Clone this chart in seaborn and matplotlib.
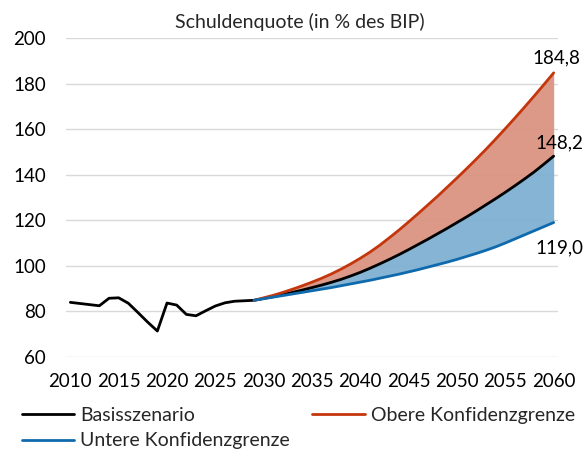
import pandas as pd
import numpy as np
import matplotlib
matplotlib.use("Agg")
import matplotlib.pyplot as plt
import seaborn as sns

# -----------------------------
# DATA
# -----------------------------
years_hist = list(range(2010, 2029))
base_hist = [83.9, 83.4, 82.9, 82.4, 85.7, 85.9, 83.5, 79.4, 75.2, 71.3,
             83.6, 82.7, 78.6, 78.0, 80.2, 82.3, 83.7, 84.4, 84.6]

years_proj = list(range(2029, 2061))
base_proj = [84.8, 85.6, 86.4, 87.3, 88.3, 89.3, 90.4, 91.5, 92.7, 94.0,
             95.5, 97.1, 98.9, 100.8, 102.8, 104.9, 107.1, 109.4, 111.7, 114.1,
             116.5, 119.0, 121.5, 124.1, 126.8, 129.5, 132.3, 135.2, 138.2, 141.3,
             144.7, 148.2]
upper_proj = [84.8, 85.9, 87.0, 88.3, 89.7, 91.2, 92.8, 94.5, 96.4, 98.5,
              100.8, 103.3, 106.0, 109.0, 112.3, 115.7, 119.3, 123.0, 126.8, 130.6,
              134.6, 138.6, 142.7, 146.9, 151.2, 155.7, 160.3, 165.0, 169.8, 174.7,
              179.7, 184.8]
lower_proj = [84.8, 85.5, 86.2, 86.9, 87.6, 88.3, 89.0, 89.7, 90.4, 91.2,
              92.0, 92.8, 93.6, 94.5, 95.4, 96.3, 97.3, 98.3, 99.4, 100.5,
              101.6, 102.8, 104.1, 105.4, 106.8, 108.3, 110.0, 111.8, 113.6, 115.4,
              117.2, 119.0]

series_names = ["Basisszenario", "Obere Konfidenzgrenze", "Untere Konfidenzgrenze"]
end_labels = ["148,2", "184,8", "119,0"]
title = "Schuldenquote (in % des BIP)"

# -----------------------------
# BUILD LONG TABLE
# -----------------------------
df = pd.concat([
    pd.DataFrame({"Jahr": years_hist + years_proj, "Wert": base_hist + base_proj,
                  "Reihe": series_names[0]}),
    pd.DataFrame({"Jahr": years_proj, "Wert": upper_proj, "Reihe": series_names[1]}),
    pd.DataFrame({"Jahr": years_proj, "Wert": lower_proj, "Reihe": series_names[2]}),
])

colors = {series_names[0]: "#000000",
          series_names[1]: "#C4360C",
          series_names[2]: "#0F6AAD"}

# -----------------------------
# PLOT
# -----------------------------
sns.set_theme(style="white")
plt.rcParams["font.family"] = ["Lato", "DejaVu Sans"]

fs = 14

fig = plt.figure(figsize=(5.85, 4.5), dpi=100)
ax = fig.add_axes([0.112, 0.2073, 0.8427, 0.7076])

ax.fill_between(years_proj, base_proj, upper_proj, color="#DC9482", lw=0, zorder=2, alpha=0.95)
ax.fill_between(years_proj, lower_proj, base_proj, color="#7FB0D2", lw=0, zorder=2, alpha=0.95)

for name in series_names:
    sub = df[df["Reihe"] == name]
    sns.lineplot(data=sub, x="Jahr", y="Wert", color=colors[name], lw=2.0,
                 ax=ax, label=name, zorder=4 if name != series_names[0] else 3)

ax.set_xlim(2009.5, 2060.5)
ax.set_ylim(60, 200)
ax.set_xticks(range(2010, 2061, 5))
ax.set_yticks(range(60, 201, 20))
ax.set_xlabel("")
ax.set_ylabel("")
ax.grid(axis="y", color="#D9D9D9", lw=1.0, zorder=1)
ax.set_axisbelow(True)
for s in ax.spines.values():
    s.set_visible(False)
ax.tick_params(axis="both", length=0, labelsize=13.5, colors="black")
ax.tick_params(axis="y", pad=14)
ax.tick_params(axis="x", pad=12)

# end labels
ends = [base_proj[-1], upper_proj[-1], lower_proj[-1]]
offsets = [(4, 9.5), (2, 11), (4, -18)]
for val, lab, off in zip(ends, end_labels, offsets):
    ax.annotate(lab, (years_proj[-1], val), xytext=off, textcoords="offset points",
                ha="center", va="center", fontsize=13.5, color="black",
                annotation_clip=False, zorder=6)

fig.text(300 / 585, 1 - 22 / 450, title, ha="center", va="center", fontsize=fs)

ax.get_legend().remove()
handles, labels = ax.get_legend_handles_labels()
order = [0, 2, 1]
fig.legend([handles[i] for i in order], [labels[i] for i in order],
           loc="lower left", bbox_to_anchor=(14 / 585, -0.016), ncol=2, frameon=False,
           fontsize=fs, handlelength=2.7, handletextpad=0.3,
           columnspacing=1.15, labelspacing=0.45, borderaxespad=0.0)

plt.savefig("out.png", dpi=100)
